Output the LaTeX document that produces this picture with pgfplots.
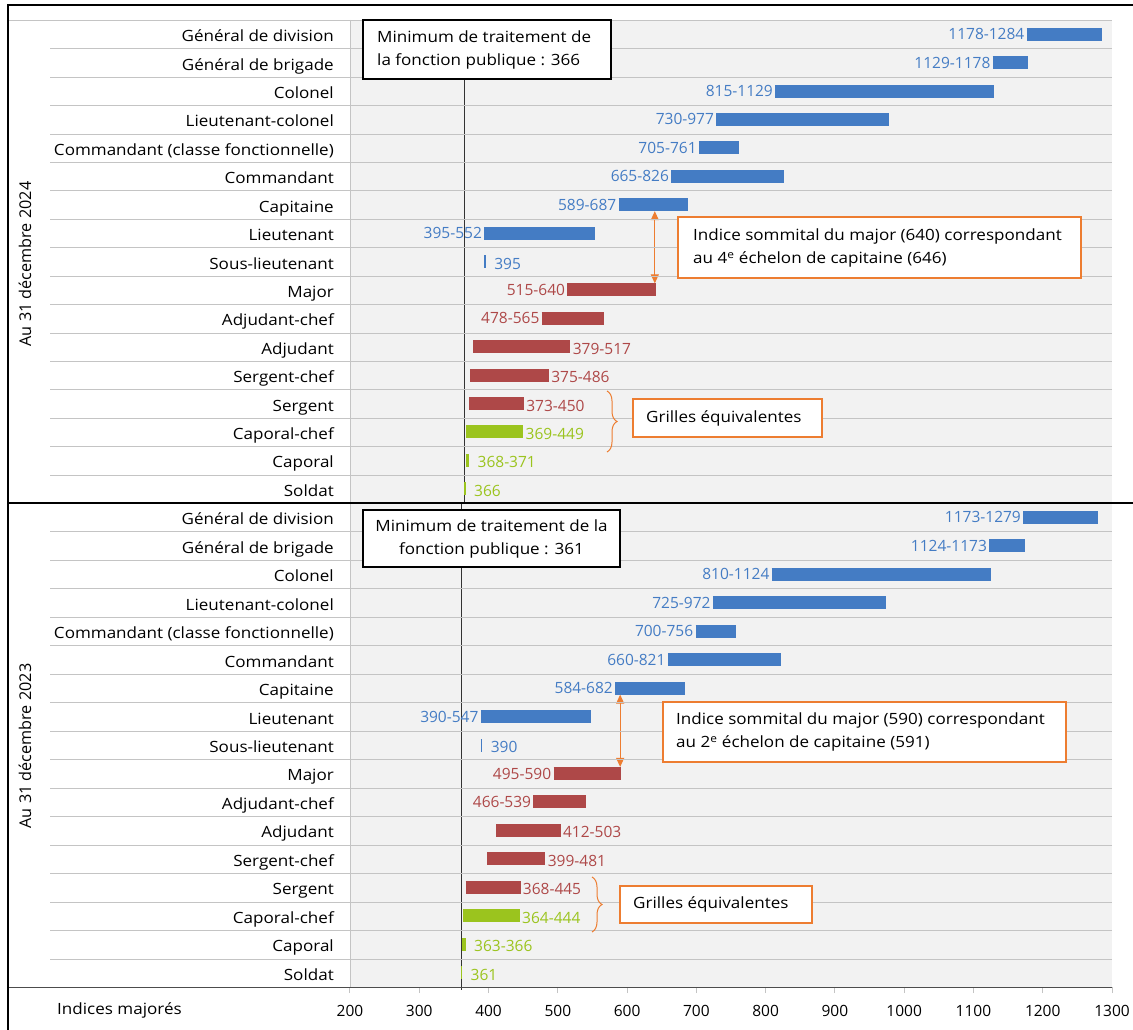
\documentclass[border=0pt]{standalone}
\usepackage{fontspec}
\setmainfont{Open Sans}
\newfontfamily\widefont[FakeStretch=1.1]{Open Sans}
\usepackage{pgfplots}
\usepackage{pgfplotstable}
\pgfplotsset{compat=1.18}
\usetikzlibrary{decorations.pathreplacing,arrows.meta}

\definecolor{cblue}{RGB}{68,124,196}
\definecolor{cred}{RGB}{174,72,72}
\definecolor{cgreen}{RGB}{155,196,30}
\definecolor{corange}{RGB}{237,125,49}
\definecolor{bgc}{RGB}{242,242,242}
\definecolor{gridc}{RGB}{196,196,196}

% numbers / words
\newcommand\lbl{\fontsize{15.5}{22.5}\selectfont}
\newcommand\txt{\widefont\fontsize{15.5}{22.5}\selectfont}

% y: 16 = top row, lo/hi = indices, c = colour, s = label side
\pgfplotstableread{
y lo hi c s
16 1178 1284 cblue L
15 1129 1178 cblue L
14 815 1129 cblue L
13 730 977 cblue L
12 705 761 cblue L
11 665 826 cblue L
10 589 687 cblue L
9 395 552 cblue L
8 395 395 cblue R
7 515 640 cred L
6 478 565 cred L
5 379 517 cred R
4 375 486 cred R
3 373 450 cred R
2 369 449 cgreen R
1 368 371 cgreen R
0 366 366 cgreen R
}\tabA

\pgfplotstableread{
y lo hi c s
16 1173 1279 cblue L
15 1124 1173 cblue L
14 810 1124 cblue L
13 725 972 cblue L
12 700 756 cblue L
11 660 821 cblue L
10 584 682 cblue L
9 390 547 cblue L
8 390 390 cblue R
7 495 590 cred L
6 466 539 cred L
5 412 503 cred R
4 399 481 cred R
3 368 445 cred R
2 364 444 cgreen R
1 363 366 cgreen R
0 361 361 cgreen R
}\tabB

\newcommand\drawbars[1]{%
  \pgfplotsforeachungrouped \i in {0,...,16}{%
    \pgfplotstablegetelem{\i}{y}\of{#1}\let\by\pgfplotsretval
    \pgfplotstablegetelem{\i}{lo}\of{#1}\let\blo\pgfplotsretval
    \pgfplotstablegetelem{\i}{hi}\of{#1}\let\bhi\pgfplotsretval
    \pgfplotstablegetelem{\i}{c}\of{#1}\let\bc\pgfplotsretval
    \pgfplotstablegetelem{\i}{s}\of{#1}\let\bs\pgfplotsretval
    \pgfmathsetmacro\ba{\blo-1.2}%
    \pgfmathsetmacro\bb{\bhi+1.2}%
    \pgfmathtruncatemacro\bw{\bhi-\blo}%
    \ifnum\blo=\bhi \edef\blab{\blo}\else\edef\blab{\blo-\bhi}\fi
    \ifnum\bw<5 \def\gap{9pt}\else\def\gap{3pt}\fi
    \edef\tmp{\noexpand\addplot[draw=\bc, line width=13pt, forget plot] coordinates {(\ba,\by) (\bb,\by)};}\tmp
    \if L\bs
      \edef\tmp{\noexpand\node[text=\bc, anchor=east, inner sep=0pt, font=\noexpand\lbl, xshift=-3pt] at (axis cs:\blo,\by) {\blab};}%
    \else
      \edef\tmp{\noexpand\node[text=\bc, anchor=west, inner sep=0pt, font=\noexpand\lbl, xshift=\gap, yshift=-2pt] at (axis cs:\bhi,\by) {\blab};}%
    \fi
    \tmp
  }}

\pgfplotsset{panel/.style={
    anchor=north west, scale only axis, width=762pt,
    xmin=200, xmax=1300, ymin=-0.5, ymax=16.5,
    axis line style={draw=none},
    axis background/.style={fill=bgc},
    clip=false,
    ytick={0,...,16},
    yticklabels={Soldat, Caporal, Caporal-chef, Sergent, Sergent-chef, Adjudant, Adjudant-chef, Major, Sous-lieutenant, Lieutenant, Capitaine, Commandant, Commandant (classe fonctionnelle), Lieutenant-colonel, Colonel, Général de brigade, Général de division},
    ytick pos=left,
    ytick style={draw=none},
    yticklabel style={font=\txt, anchor=base east, inner sep=0pt, xshift=-10pt, yshift=-7.5pt},
    major tick length=6pt, tick align=outside,
    xtick pos=left,
    xtick style={draw=gridc, line width=1pt},
    xticklabel style={font=\lbl, inner sep=0pt, yshift=-12pt},
    /pgf/number format/assume math mode=true,
    /pgf/number format/1000 sep={},
}}

\begin{document}
\begin{tikzpicture}[x=1pt,y=1pt]
\path[use as bounding box] (0,0) rectangle (1133,-1030);

\begin{axis}[panel, at={(350pt,-20pt)}, height=483pt, xtick=\empty]
\addplot[black!80, line width=1pt, forget plot] coordinates {(366,-0.5) (366,16.5)};
\drawbars{\tabA}
\draw[corange, line width=1pt, {Triangle[length=9pt,width=8pt]}-{Triangle[length=9pt,width=8pt]}] (axis cs:640,9.77) -- (axis cs:640,7.23);
\end{axis}

\begin{axis}[panel, at={(350pt,-503pt)}, height=484pt, xtick={200,300,...,1300}]
\addplot[black!80, line width=1pt, forget plot] coordinates {(361,-0.6) (361,16.5)};
\drawbars{\tabB}
\draw[corange, line width=1pt, {Triangle[length=9pt,width=8pt]}-{Triangle[length=9pt,width=8pt]}] (axis cs:590,9.77) -- (axis cs:590,7.23);
\end{axis}

% row separators, snapped to whole pixels
\foreach \k in {1,...,16}{
  \pgfmathsetmacro\ya{-round(20+483/17*\k)-0.5}
  \pgfmathsetmacro\yb{-round(503+484/17*\k)-0.5}
  \draw[gridc, line width=1.4pt] (50,\ya) -- (1112,\ya);
  \draw[gridc, line width=1.4pt] (50,\yb) -- (1112,\yb);
}
\draw[gridc, line width=1.4pt] (8,-20.5) -- (1112,-20.5);
\draw[gridc, line width=1.4pt] (350.5,-20) -- (350.5,-987);
\draw[black!70, line width=1.2pt] (8,-987.5) -- (1112,-987.5);
\draw[black, line width=1.5pt] (8,-503) -- (1133,-503);
\draw[black, line width=1.5pt] (1133,-5) -- (8,-5) -- (8,-1030);

% year labels
\node[rotate=90, font=\fontsize{16.2}{20}\selectfont] at (25,-264) {Au 31 décembre 2024};
\node[rotate=90, font=\fontsize{16.2}{20}\selectfont] at (25,-746) {Au 31 décembre 2023};
\node[anchor=west, font=\txt, inner sep=0pt] at (57,-1010) {Indices majorés};

% minimum boxes
\draw[black, line width=1.3pt, fill=white] (363,-20) rectangle (611,-79);
\node[anchor=west, align=left, font=\txt, inner sep=0pt] at (377,-50) {Minimum de traitement de\\la fonction publique : 366};
\draw[black, line width=1.3pt, fill=white] (363,-510) rectangle (620,-567);
\node[align=center, font=\txt, inner sep=0pt] at (491.5,-539) {Minimum de traitement de la\\fonction publique : 361};

% major notes
\draw[corange, line width=1.3pt, fill=white] (678,-217) rectangle (1081,-278);
\node[anchor=west, align=left, font=\txt, inner sep=0pt] at (693,-248) {Indice sommital du major (640) correspondant\\au 4\textsuperscript{e} échelon de capitaine (646)};
\draw[corange, line width=1.3pt, fill=white] (663,-702) rectangle (1066,-762);
\node[anchor=west, align=left, font=\txt, inner sep=0pt] at (676,-732) {Indice sommital du major (590) correspondant\\au 2\textsuperscript{e} échelon de capitaine (591)};

% equivalent grids
\draw[corange, line width=1pt, decorate, decoration={brace, amplitude=10pt}] (607,-391) -- (607,-452);
\draw[corange, line width=1.3pt, fill=white] (633,-399) rectangle (822,-437);
\node[anchor=west, font=\txt, inner sep=0pt] at (646,-418) {Grilles équivalentes};
\draw[corange, line width=1pt, decorate, decoration={brace, amplitude=10pt}] (592,-877) -- (592,-932);
\draw[corange, line width=1.3pt, fill=white] (620,-886) rectangle (812,-923);
\node[anchor=west, font=\txt, inner sep=0pt] at (633,-904.5) {Grilles équivalentes};
\end{tikzpicture}
\end{document}
